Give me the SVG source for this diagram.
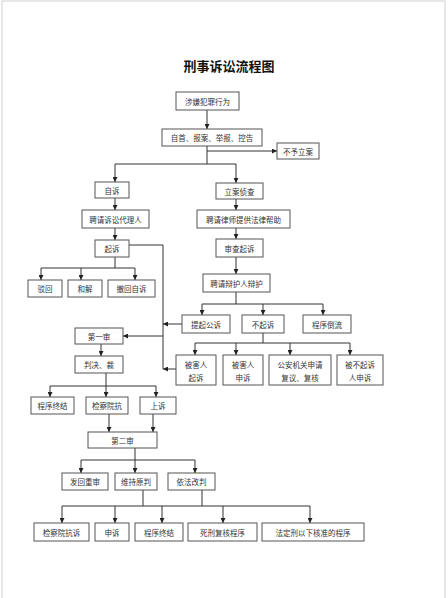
<svg xmlns="http://www.w3.org/2000/svg" width="448" height="598" viewBox="0 0 448 598">
<defs>
<marker id="ah" viewBox="0 0 6 6" refX="6" refY="3" markerWidth="5" markerHeight="5" orient="auto" markerUnits="userSpaceOnUse"><path d="M0,0 L6,3 L0,6 z" fill="#222"/></marker>
<style>
.box{fill:#fff;stroke:#555;stroke-width:1}
.t{font-family:"Noto Sans CJK SC","Noto Sans",sans-serif;font-size:7.5px;fill:#333;text-anchor:middle;dominant-baseline:central}
.title{font-family:"Noto Sans CJK SC","Noto Sans",sans-serif;font-size:13px;font-weight:bold;fill:#111;text-anchor:middle}
.c{fill:none;stroke:#333;stroke-width:1}
.a{fill:none;stroke:#333;stroke-width:1;marker-end:url(#ah)}
</style>
</defs>
<rect x="0" y="0" width="448" height="598" fill="#fff"/>
<rect x="2" y="1" width="443" height="600" fill="none" stroke="#d0d0d0" stroke-width="1"/>
<text class="title" x="229" y="71">刑事诉讼流程图</text>

<g id="connectors">
<path class="a" d="M207,110 V129"/>
<path class="c" d="M207,146 V164"/>
<path class="a" d="M207,151 H277"/>
<path class="c" d="M115,164 H236"/>
<path class="a" d="M115,164 V182"/>
<path class="a" d="M236,164 V183"/>
<path class="a" d="M115,198 V210"/>
<path class="a" d="M115,228 V240"/>
<path class="c" d="M129,245 H163 V369"/>
<path class="c" d="M115,257 V268"/>
<path class="c" d="M41,268 H135"/>
<path class="a" d="M41,268 V280"/>
<path class="a" d="M81,268 V280"/>
<path class="a" d="M135,268 V280"/>
<path class="a" d="M236,199 V210"/>
<path class="a" d="M236,228 V239"/>
<path class="a" d="M236,257 V274"/>
<path class="c" d="M236,292 V304"/>
<path class="c" d="M202,304 H323"/>
<path class="a" d="M202,304 V315"/>
<path class="a" d="M263,304 V315"/>
<path class="a" d="M323,304 V315"/>
<path class="c" d="M263,333 V343"/>
<path class="c" d="M195,343 H350"/>
<path class="a" d="M195,343 V355"/>
<path class="a" d="M236,343 V355"/>
<path class="a" d="M290,343 V355"/>
<path class="a" d="M350,343 V355"/>
<path class="a" d="M182,324 H163"/>
<path class="a" d="M176,369 H163"/>
<path class="a" d="M163,336 H123"/>
<path class="a" d="M101,344 V356"/>
<path class="c" d="M106,373 V386"/>
<path class="c" d="M50,386 H156"/>
<path class="a" d="M50,386 V397"/>
<path class="a" d="M106,386 V397"/>
<path class="a" d="M156,386 V397"/>
<path class="a" d="M109,414 V432"/>
<path class="a" d="M153,414 V432"/>
<path class="c" d="M135,448 V460"/>
<path class="c" d="M81,460 H195"/>
<path class="a" d="M81,460 V473"/>
<path class="a" d="M135,460 V473"/>
<path class="a" d="M195,460 V473"/>
<path class="c" d="M143,490 V506"/>
<path class="c" d="M202,490 V506"/>
<path class="c" d="M62,506 H310"/>
<path class="a" d="M62,506 V523"/>
<path class="a" d="M115,506 V523"/>
<path class="a" d="M162,506 V523"/>
<path class="a" d="M223,506 V523"/>
<path class="a" d="M310,506 V523"/>
</g>

<g id="n1"><rect class="box" x="176" y="92" width="63" height="18"/><text class="t" x="207.5" y="101">涉嫌犯罪行为</text></g>
<g id="n2"><rect class="box" x="162" y="129" width="100" height="17"/><text class="t" x="212" y="137.5">自首、报案、举报、控告</text></g>
<g id="n3"><rect class="box" x="277" y="143" width="42" height="16"/><text class="t" x="298" y="151">不予立案</text></g>
<g id="n4"><rect class="box" x="95" y="182" width="34" height="16"/><text class="t" x="112" y="190">自诉</text></g>
<g id="n5"><rect class="box" x="216" y="183" width="47" height="16"/><text class="t" x="239.5" y="191">立案侦查</text></g>
<g id="n6"><rect class="box" x="82" y="210" width="67" height="18"/><text class="t" x="115.5" y="219">聘请诉讼代理人</text></g>
<g id="n7"><rect class="box" x="197" y="210" width="93" height="18"/><text class="t" x="243.5" y="219">聘请律师提供法律帮助</text></g>
<g id="n8"><rect class="box" x="95" y="240" width="34" height="17"/><text class="t" x="112" y="248.5">起诉</text></g>
<g id="n9"><rect class="box" x="216" y="239" width="47" height="18"/><text class="t" x="239.5" y="248">审查起诉</text></g>
<g id="n10"><rect class="box" x="28" y="280" width="34" height="17"/><text class="t" x="45" y="288.5">驳回</text></g>
<g id="n11"><rect class="box" x="68" y="280" width="34" height="17"/><text class="t" x="85" y="288.5">和解</text></g>
<g id="n12"><rect class="box" x="108" y="280" width="47" height="17"/><text class="t" x="131.5" y="288.5">撤回自诉</text></g>
<g id="n13"><rect class="box" x="203" y="274" width="67" height="18"/><text class="t" x="236.5" y="283">聘请辩护人辩护</text></g>
<g id="n14"><rect class="box" x="182" y="315" width="48" height="18"/><text class="t" x="206" y="324">提起公诉</text></g>
<g id="n15"><rect class="box" x="242" y="315" width="42" height="18"/><text class="t" x="263" y="324">不起诉</text></g>
<g id="n16"><rect class="box" x="303" y="315" width="48" height="18"/><text class="t" x="327" y="324">程序倒流</text></g>
<g id="n17"><rect class="box" x="176" y="355" width="40" height="30"/><text class="t" x="196" y="364">被害人</text><text class="t" x="196" y="377">起诉</text></g>
<g id="n18"><rect class="box" x="223" y="355" width="40" height="30"/><text class="t" x="243" y="364">被害人</text><text class="t" x="243" y="377">申诉</text></g>
<g id="n19"><rect class="box" x="269" y="355" width="62" height="30"/><text class="t" x="300" y="364">公安机关申请</text><text class="t" x="300" y="377">复议、复核</text></g>
<g id="n20"><rect class="box" x="337" y="355" width="46" height="30"/><text class="t" x="360" y="364">被不起诉</text><text class="t" x="360" y="377">人申诉</text></g>
<g id="n21"><rect class="box" x="75" y="328" width="48" height="16"/><text class="t" x="99" y="336">第一审</text></g>
<g id="n22"><rect class="box" x="75" y="356" width="48" height="17"/><text class="t" x="99" y="364.5">判决、裁</text></g>
<g id="n23"><rect class="box" x="31" y="397" width="43" height="17"/><text class="t" x="52.5" y="405.5">程序终结</text></g>
<g id="n24"><rect class="box" x="86" y="397" width="42" height="17"/><text class="t" x="107" y="405.5">检察院抗</text></g>
<g id="n25"><rect class="box" x="140" y="397" width="36" height="17"/><text class="t" x="158" y="405.5">上诉</text></g>
<g id="n26"><rect class="box" x="88" y="432" width="69" height="16"/><text class="t" x="122.5" y="440">第二审</text></g>
<g id="n27"><rect class="box" x="62" y="473" width="46" height="17"/><text class="t" x="85" y="481.5">发回重审</text></g>
<g id="n28"><rect class="box" x="115" y="473" width="42" height="17"/><text class="t" x="136" y="481.5">维持原判</text></g>
<g id="n29"><rect class="box" x="168" y="473" width="47" height="17"/><text class="t" x="191.5" y="481.5">依法改判</text></g>
<g id="n30"><rect class="box" x="34" y="523" width="55" height="18"/><text class="t" x="61.5" y="532">检察院抗诉</text></g>
<g id="n31"><rect class="box" x="95" y="523" width="34" height="18"/><text class="t" x="112" y="532">申诉</text></g>
<g id="n32"><rect class="box" x="135" y="523" width="48" height="18"/><text class="t" x="159" y="532">程序终结</text></g>
<g id="n33"><rect class="box" x="188" y="523" width="69" height="18"/><text class="t" x="222.5" y="532">死刑复核程序</text></g>
<g id="n34"><rect class="box" x="262" y="523" width="102" height="18"/><text class="t" x="313" y="532">法定刑以下核准的程序</text></g>
</svg>
